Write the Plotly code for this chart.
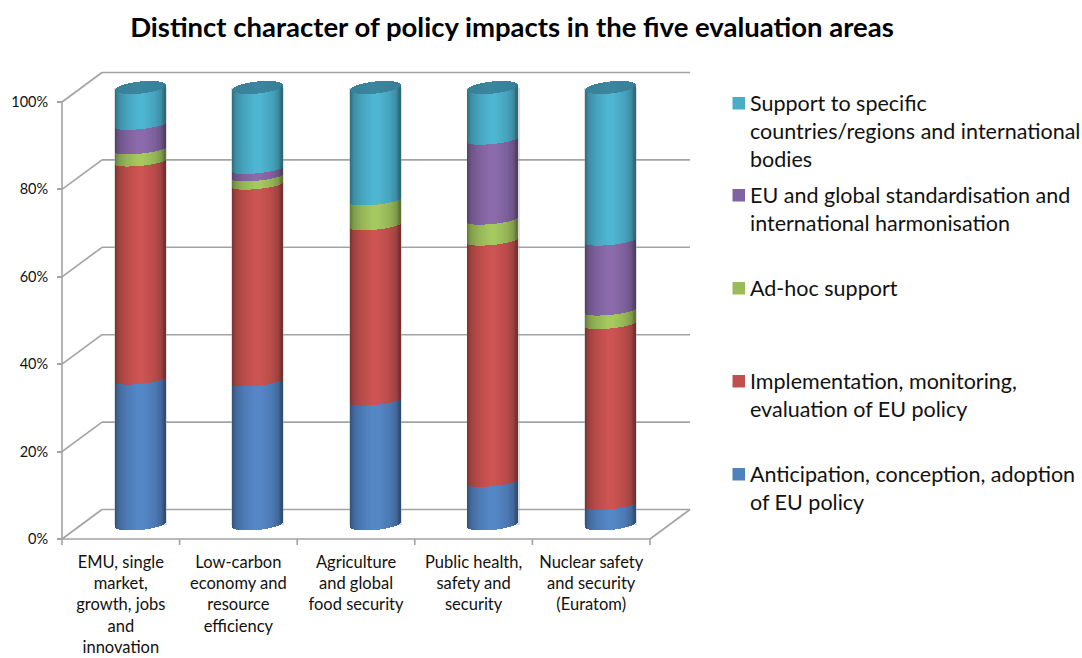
import numpy as np
import plotly.graph_objects as go

categories = [
    "EMU, single<br>market,<br>growth, jobs<br>and<br>innovation",
    "Low-carbon<br>economy and<br>resource<br>efficiency",
    "Agriculture<br>and global<br>food security",
    "Public health,<br>safety and<br>security",
    "Nuclear safety<br>and security<br>(Euratom)",
]
anticipation = [33.1, 32.7, 28.3, 9.7, 4.4]
implementation = [49.9, 45.0, 40.1, 55.2, 41.4]
adhoc = [2.8, 1.9, 5.7, 4.8, 3.1]
standardisation = [5.6, 1.7, 0.0, 18.3, 16.0]
support = [8.6, 18.7, 25.9, 12.0, 35.1]
y_ticks = [0, 20, 40, 60, 80, 100]
title_text = "Distinct character of policy impacts in the five evaluation areas"

series_names = ["anticipation", "implementation", "adhoc", "standardisation", "support"]
series_values = [anticipation, implementation, adhoc, standardisation, support]
series_rgb = [(85, 135, 199), (204, 84, 82), (165, 200, 96), (139, 107, 172), (78, 181, 210)]
legend_rgb = ["#4f81bd", "#c0504d", "#9bbb59", "#8064a2", "#4bacc6"]
lid_rgb = (60, 134, 160)

legend_blocks = [
    (4, [("Support to specific", 103), ("countries/regions and international", 131), ("bodies", 159)]),
    (3, [("EU and global standardisation and", 195), ("international harmonisation", 223)]),
    (2, [("Ad-hoc support", 288)]),
    (1, [("Implementation, monitoring,", 381), ("evaluation of EU policy", 409)]),
    (0, [("Anticipation, conception, adoption", 474), ("of EU policy", 502)]),
]

# layout geometry in page pixels
W, H = 1082, 658
L, R, T, B = 50, 700, 60, 550
X0, XSTEP = 62.0, 117.6     # front x axis
Y0, YSTEP = 539.0, 4.37     # front y axis
DX, DY = 40.0, 29.5         # depth of the box
BAR_DX, BAR_DY = 19.5, 14.5  # bar centre depth
BAR_R, TILT = 25.0, 2.5
ELL_LID, ELL_BOTTOM, ELL_INNER = 6.0, 5.4, 4.0

ux = lambda px: (px - X0) / XSTEP
uy = lambda py: (Y0 - py) / YSTEP
px_x = lambda px: (px - L) / (R - L)
px_y = lambda py: (B - py) / (B - T)

N = 50
ts = (np.arange(N) + 0.5) / N * 2 - 1
shade = np.interp(ts, [-1, -0.85, -0.55, -0.1, 0.15, 0.6, 0.85, 1],
                  [0.60, 0.78, 0.90, 1.0, 1.0, 0.90, 0.78, 0.55])
arc = np.sqrt(1 - ts ** 2)
off_x = (ts * BAR_R + BAR_DX) / XSTEP
w = 2 * BAR_R / N / XSTEP * 1.25


def edge(level, sag):
    """Front edge of a cylinder slice at a percent level, in axis units."""
    return level + (BAR_DY - sag * arc + TILT * ts) / YSTEP


def colors(rgb):
    return ["rgb(%d,%d,%d)" % tuple(int(c * s) for c in rgb) for s in shade]


fig = go.Figure()

# faint halo behind each cylinder
totals = [sum(s[i] for s in series_values) for i in range(len(categories))]
fig.add_bar(x=[i + 0.5 + BAR_DX / XSTEP for i in range(len(categories))], y=totals,
            base=[BAR_DY / YSTEP] * len(categories), width=2 * (BAR_R + 1.5) / XSTEP, name="halo",
            marker=dict(color="rgba(170,170,170,0.4)", line_width=0), showlegend=False)

cum = [0.0] * len(categories)
for name, vals, rgb in zip(series_names, series_values, series_rgb):
    xs, bases, ys = [], [], []
    for i, v in enumerate(vals):
        low = edge(cum[i], ELL_BOTTOM if cum[i] == 0 else ELL_INNER)
        high = edge(cum[i] + v, ELL_INNER)
        xs += list(i + 0.5 + off_x)
        bases += list(low)
        ys += list(high - low)
        cum[i] += v
    fig.add_bar(x=xs, y=ys, base=bases, width=w, name=name,
                marker=dict(color=colors(rgb) * len(vals), line_width=0), showlegend=False)

# lids of the cylinders
xs, bases, ys = [], [], []
for i in range(len(categories)):
    low = edge(cum[i], ELL_LID)
    high = edge(cum[i], -ELL_LID)
    xs += list(i + 0.5 + off_x)
    bases += list(low)
    ys += list(high - low)
lid_shade = np.interp(ts, [-1, 0, 1], [0.95, 1.0, 0.95])
fig.add_bar(x=xs, y=ys, base=bases, width=w, name="lid", showlegend=False,
            marker=dict(color=["rgb(%d,%d,%d)" % tuple(int(c * s) for c in lid_rgb) for s in lid_shade] * len(categories),
                        line_width=0))

# box wall, floor and gridlines
GRID = dict(color="#a3a3a3", width=1.6)
dxu, dyu = DX / XSTEP, DY / YSTEP
nc = len(categories)
shapes = []
for v in y_ticks:
    shapes.append(dict(type="line", xref="x", yref="y", x0=0, y0=v, x1=dxu, y1=v + dyu, line=GRID, layer="below"))
    shapes.append(dict(type="line", xref="x", yref="y", x0=dxu, y0=v + dyu, x1=nc + dxu, y1=v + dyu, line=GRID, layer="below"))
shapes.append(dict(type="line", xref="x", yref="y", x0=0, y0=0, x1=0, y1=100, line=GRID, layer="below"))
shapes.append(dict(type="line", xref="x", yref="y", x0=0, y0=0, x1=nc, y1=0, line=GRID, layer="below"))
shapes.append(dict(type="line", xref="x", yref="y", x0=nc, y0=0, x1=nc + dxu, y1=dyu, line=GRID, layer="below"))
for i in range(nc + 1):
    shapes.append(dict(type="line", xref="x", yref="y", x0=i, y0=0, x1=i, y1=uy(545), line=GRID, layer="below"))

# legend drawn as swatches + text lines
annotations = []
FONT = "Lato"
for idx, lines in legend_blocks:
    ym = lines[0][1]
    shapes.append(dict(type="rect", xref="paper", yref="paper",
                       x0=px_x(732.5), x1=px_x(745), y0=px_y(ym - 6), y1=px_y(ym + 6.5),
                       fillcolor=legend_rgb[idx], line_width=0))
    for text, y in lines:
        annotations.append(dict(text=text, xref="paper", yref="paper", x=px_x(748), y=px_y(y),
                                xanchor="left", yanchor="middle", showarrow=False,
                                font=dict(family=FONT, size=21.5, color="#111111")))

fig.update_layout(
    width=W, height=H, autosize=False,
    margin=dict(l=L, r=W - R, t=T, b=H - B, pad=0, autoexpand=False),
    paper_bgcolor="white", plot_bgcolor="white",
    barmode="overlay", bargap=0,
    title=dict(text="<b>%s</b>" % title_text, x=512 / W, xanchor="center", y=1 - 27 / H, yanchor="middle",
               font=dict(family=FONT, size=27.5, color="black")),
    xaxis=dict(range=[ux(L), ux(R)], domain=[0, 1], anchor="free", position=px_y(539), showgrid=False, zeroline=False,
               automargin=False, showline=False, ticks="", tickmode="array", tickvals=[i + 0.5 for i in range(nc)],
               ticktext=categories, tickangle=0, ticklabelstandoff=11,
               tickfont=dict(family=FONT, size=16.5, color="#111111")),
    yaxis=dict(range=[uy(B), uy(T)], domain=[0, 1], anchor="free", position=px_x(X0), showgrid=False, zeroline=False,
               automargin=False, showline=False, ticks="outside", ticklen=5, tickcolor="#a3a3a3", tickwidth=1.6,
               tickmode="array", tickvals=y_ticks, ticktext=["%d%%" % v for v in y_ticks],
               ticklabelstandoff=6, tickfont=dict(family=FONT, size=14.5, color="#111111")),
    shapes=shapes, annotations=annotations,
)
fig.write_html("out.html", post_script="document.body.style.margin='0';", config={"displayModeBar": False})
